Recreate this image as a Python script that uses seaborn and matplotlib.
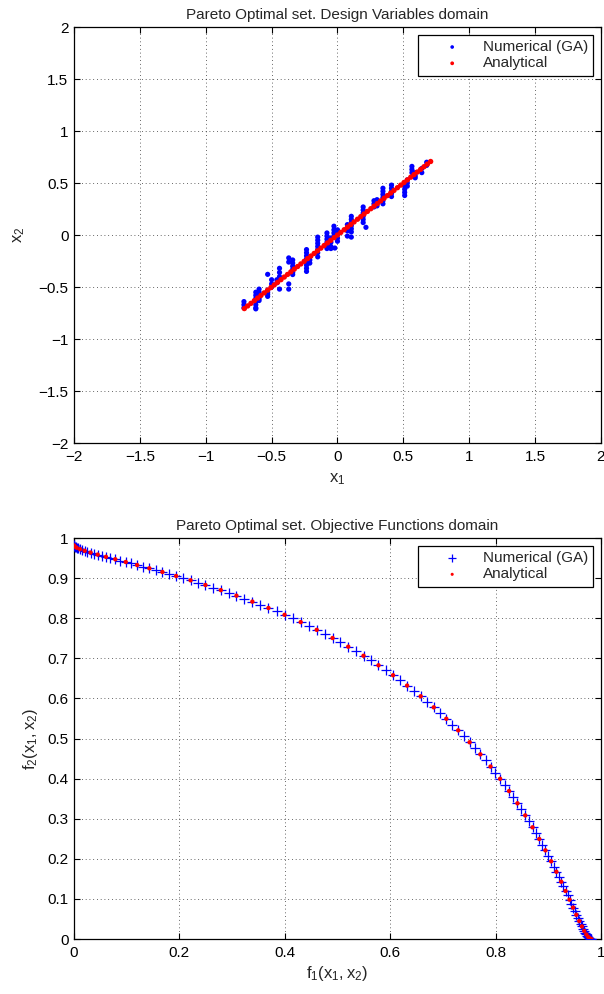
import matplotlib
matplotlib.use("Agg")
import matplotlib.pyplot as plt
import seaborn as sns
import pandas as pd

# ---------------- data ----------------
# Top panel: design variables domain
analytical_x1 = [-0.707, -0.682, -0.657, -0.631, -0.606, -0.581, -0.556, -0.530, -0.505, -0.480,
                 -0.455, -0.429, -0.404, -0.379, -0.354, -0.328, -0.303, -0.278, -0.253, -0.227,
                 -0.202, -0.177, -0.152, -0.126, -0.101, -0.076, -0.051, -0.025, 0.000, 0.025,
                 0.051, 0.076, 0.101, 0.126, 0.152, 0.177, 0.202, 0.227, 0.253, 0.278,
                 0.303, 0.328, 0.354, 0.379, 0.404, 0.429, 0.455, 0.480, 0.505, 0.530,
                 0.556, 0.581, 0.606, 0.631, 0.657, 0.682, 0.707]
analytical_x2 = [-0.707, -0.682, -0.657, -0.631, -0.606, -0.581, -0.556, -0.530, -0.505, -0.480,
                 -0.455, -0.429, -0.404, -0.379, -0.354, -0.328, -0.303, -0.278, -0.253, -0.227,
                 -0.202, -0.177, -0.152, -0.126, -0.101, -0.076, -0.051, -0.025, 0.000, 0.025,
                 0.051, 0.076, 0.101, 0.126, 0.152, 0.177, 0.202, 0.227, 0.253, 0.278,
                 0.303, 0.328, 0.354, 0.379, 0.404, 0.429, 0.455, 0.480, 0.505, 0.530,
                 0.556, 0.581, 0.606, 0.631, 0.657, 0.682, 0.707]

ga_x1 = ([-0.71] * 3 + [-0.62] * 7 + [-0.595] * 5 + [-0.53] * 5 + [-0.50] * 3 + [-0.46] * 2
         + [-0.44] * 4 + [-0.37] * 4 + [-0.34] * 6 + [-0.235] * 8 + [-0.21] * 3 + [-0.15] * 7
         + [-0.08] * 6 + [-0.05] * 4 + [-0.02] + [-0.027] * 4 + [0.0] * 4 + [0.075] * 4
         + [0.105] * 7 + [0.195] * 6 + [0.216] + [0.277] * 3 + [0.30] * 3 + [0.345] * 6
         + [0.41] * 5 + [0.51] * 5 + [0.53] * 3 + [0.565] * 3 + [0.59] * 3 + [0.64] * 2 + [0.677] * 2)
ga_x2 = ([-0.70, -0.67, -0.64]
         + [-0.55, -0.58, -0.61, -0.64, -0.67, -0.70, -0.71]
         + [-0.52, -0.55, -0.58, -0.61, -0.63]
         + [-0.378, -0.53, -0.55, -0.57, -0.59]
         + [-0.43, -0.47, -0.50]
         + [-0.43, -0.46]
         + [-0.32, -0.36, -0.40, -0.52]
         + [-0.22, -0.26, -0.47, -0.52]
         + [-0.24, -0.27, -0.30, -0.33, -0.36, -0.38]
         + [-0.14, -0.17, -0.20, -0.23, -0.26, -0.29, -0.32, -0.35]
         + [-0.21, -0.24, -0.27]
         + [-0.02, -0.05, -0.08, -0.11, -0.14, -0.17, -0.21]
         + [0.02, -0.01, -0.04, -0.07, -0.10, -0.13]
         + [-0.03, -0.07, -0.11, -0.13]
         + [-0.125]
         + [0.085, 0.05, 0.02, -0.01]
         + [0.05, 0.01, -0.03, -0.06]
         + [0.10, 0.07, 0.04, -0.01]
         + [0.18, 0.15, 0.12, 0.09, 0.06, 0.03, -0.02]
         + [0.27, 0.24, 0.21, 0.18, 0.15, 0.12]
         + [0.074]
         + [0.27, 0.30, 0.33]
         + [0.34, 0.31, 0.28]
         + [0.45, 0.42, 0.39, 0.36, 0.33, 0.30]
         + [0.48, 0.45, 0.42, 0.40, 0.37]
         + [0.50, 0.47, 0.44, 0.41, 0.38]
         + [0.53, 0.50, 0.47]
         + [0.66, 0.63, 0.60]
         + [0.60, 0.57, 0.55]
         + [0.64, 0.60]
         + [0.70, 0.67])

# Bottom panel: objective functions domain
analytical_f1 = [0.0000, 0.0013, 0.0051, 0.0114, 0.0202, 0.0314, 0.0449, 0.0606, 0.0784, 0.0982,
                 0.1198, 0.1430, 0.1678, 0.1939, 0.2212, 0.2495, 0.2786, 0.3083, 0.3385, 0.3690,
                 0.3996, 0.4302, 0.4606, 0.4907, 0.5204, 0.5494, 0.5778, 0.6054, 0.6321, 0.6579,
                 0.6827, 0.7065, 0.7291, 0.7507, 0.7711, 0.7904, 0.8086, 0.8256, 0.8415, 0.8563,
                 0.8701, 0.8829, 0.8946, 0.9054, 0.9154, 0.9245, 0.9327, 0.9403, 0.9471, 0.9532,
                 0.9588, 0.9638, 0.9682, 0.9722, 0.9758, 0.9789, 0.9817]
analytical_f2 = [0.9817, 0.9789, 0.9758, 0.9722, 0.9682, 0.9638, 0.9588, 0.9532, 0.9471, 0.9403,
                 0.9327, 0.9245, 0.9154, 0.9054, 0.8946, 0.8829, 0.8701, 0.8563, 0.8415, 0.8256,
                 0.8086, 0.7904, 0.7711, 0.7507, 0.7291, 0.7065, 0.6827, 0.6579, 0.6321, 0.6054,
                 0.5778, 0.5494, 0.5204, 0.4907, 0.4606, 0.4302, 0.3996, 0.3690, 0.3385, 0.3083,
                 0.2786, 0.2495, 0.2212, 0.1939, 0.1678, 0.1430, 0.1198, 0.0982, 0.0784, 0.0606,
                 0.0449, 0.0314, 0.0202, 0.0114, 0.0051, 0.0013, 0.0000]

ga_f1 = [0.0000, 0.0003, 0.0013, 0.0029, 0.0051, 0.0079, 0.0114, 0.0155, 0.0202, 0.0255,
         0.0314, 0.0379, 0.0449, 0.0525, 0.0606, 0.0692, 0.0784, 0.0880, 0.0982, 0.1087,
         0.1198, 0.1312, 0.1430, 0.1552, 0.1678, 0.1807, 0.1939, 0.2074, 0.2212, 0.2353,
         0.2495, 0.2640, 0.2786, 0.2934, 0.3083, 0.3234, 0.3385, 0.3538, 0.3690, 0.3843,
         0.3996, 0.4150, 0.4302, 0.4455, 0.4606, 0.4757, 0.4907, 0.5056, 0.5204, 0.5350,
         0.5494, 0.5637, 0.5778, 0.5917, 0.6054, 0.6189, 0.6321, 0.6451, 0.6579, 0.6704,
         0.6827, 0.6947, 0.7065, 0.7180, 0.7291, 0.7401, 0.7507, 0.7610, 0.7711, 0.7809,
         0.7904, 0.7996, 0.8086, 0.8172, 0.8256, 0.8337, 0.8415, 0.8490, 0.8563, 0.8634,
         0.8701, 0.8766, 0.8829, 0.8888, 0.8946, 0.9001, 0.9054, 0.9105, 0.9154, 0.9200,
         0.9245, 0.9287, 0.9327, 0.9366, 0.9403, 0.9438, 0.9471, 0.9502, 0.9532, 0.9561,
         0.9588, 0.9613, 0.9638, 0.9661, 0.9682, 0.9703, 0.9722, 0.9740, 0.9758, 0.9774,
         0.9789, 0.9803, 0.9817]
ga_f2 = [0.9817, 0.9803, 0.9789, 0.9774, 0.9758, 0.9740, 0.9722, 0.9703, 0.9682, 0.9661,
         0.9638, 0.9613, 0.9588, 0.9561, 0.9532, 0.9502, 0.9471, 0.9438, 0.9403, 0.9366,
         0.9327, 0.9287, 0.9245, 0.9200, 0.9154, 0.9105, 0.9054, 0.9001, 0.8946, 0.8888,
         0.8829, 0.8766, 0.8701, 0.8634, 0.8563, 0.8490, 0.8415, 0.8337, 0.8256, 0.8172,
         0.8086, 0.7996, 0.7904, 0.7809, 0.7711, 0.7610, 0.7507, 0.7401, 0.7291, 0.7180,
         0.7065, 0.6947, 0.6827, 0.6704, 0.6579, 0.6451, 0.6321, 0.6189, 0.6054, 0.5917,
         0.5778, 0.5637, 0.5494, 0.5350, 0.5204, 0.5056, 0.4907, 0.4757, 0.4606, 0.4455,
         0.4302, 0.4150, 0.3996, 0.3843, 0.3690, 0.3538, 0.3385, 0.3234, 0.3083, 0.2934,
         0.2786, 0.2640, 0.2495, 0.2353, 0.2212, 0.2074, 0.1939, 0.1807, 0.1678, 0.1552,
         0.1430, 0.1312, 0.1198, 0.1087, 0.0982, 0.0880, 0.0784, 0.0692, 0.0606, 0.0525,
         0.0449, 0.0379, 0.0314, 0.0255, 0.0202, 0.0155, 0.0114, 0.0079, 0.0051, 0.0029,
         0.0013, 0.0003, 0.0000]

top_ticks = [-2, -1.5, -1, -0.5, 0, 0.5, 1, 1.5, 2]
top_ticklabels = ["\u22122", "\u22121.5", "\u22121", "\u22120.5", "0", "0.5", "1", "1.5", "2"]
bot_xticks = [0, 0.2, 0.4, 0.6, 0.8, 1]
bot_xticklabels = ["0", "0.2", "0.4", "0.6", "0.8", "1"]
bot_yticks = [0, 0.1, 0.2, 0.3, 0.4, 0.5, 0.6, 0.7, 0.8, 0.9, 1]
bot_yticklabels = ["0", "0.1", "0.2", "0.3", "0.4", "0.5", "0.6", "0.7", "0.8", "0.9", "1"]

# ---------------- style ----------------
sns.set_theme(style="white")
plt.rcParams["font.family"] = ["Liberation Sans", "DejaVu Sans"]
plt.rcParams["mathtext.default"] = "regular"
plt.rcParams["axes.unicode_minus"] = True

FS = 11

fig = plt.figure(figsize=(6.04, 9.94), dpi=100)
ax1 = fig.add_axes([0.1225, 0.5543, 0.8725, 0.4185])
ax2 = fig.add_axes([0.1225, 0.0553, 0.8725, 0.4034])

BLUE = (0, 0, 1)
RED = (1, 0, 0)


def style_axes(ax):
    ax.set_facecolor("white")
    for sp in ax.spines.values():
        sp.set_visible(True)
        sp.set_color("black")
        sp.set_linewidth(0.9)
    ax.tick_params(direction="in", length=4, width=0.8, top=True, right=True,
                   bottom=True, left=True, labelsize=FS, colors="black", pad=5)
    ax.tick_params(axis="y", pad=4)
    ax.grid(True, color="black", linestyle=(0, (1, 3.5)), linewidth=0.6, alpha=0.8)
    ax.set_axisbelow(True)


# ---------------- top panel ----------------
df_ga_top = pd.DataFrame({"x1": ga_x1, "x2": ga_x2})
df_an_top = pd.DataFrame({"x1": analytical_x1, "x2": analytical_x2})
sns.scatterplot(data=df_ga_top, x="x1", y="x2", ax=ax1, color=BLUE, s=14,
                edgecolor="none", linewidth=0, label="Numerical (GA)", zorder=3)
sns.scatterplot(data=df_an_top, x="x1", y="x2", ax=ax1, color=RED, s=15,
                edgecolor="none", linewidth=0, label="Analytical", zorder=4)
ax1.set_xlim(-2, 2)
ax1.set_ylim(-2, 2)
ax1.set_xticks(top_ticks)
ax1.set_xticklabels(top_ticklabels)
ax1.set_yticks(top_ticks)
ax1.set_yticklabels(top_ticklabels)
style_axes(ax1)
ax1.set_title("Pareto Optimal set. Design Variables domain", fontsize=FS, pad=6)
ax1.set_xlabel("$x_1$", fontsize=FS + 1, labelpad=5)
ax1.set_ylabel("$x_2$", fontsize=FS + 1, labelpad=8)

# ---------------- bottom panel ----------------
df_ga_bot = pd.DataFrame({"f1": ga_f1, "f2": ga_f2})
df_an_bot = pd.DataFrame({"f1": analytical_f1, "f2": analytical_f2})
sns.scatterplot(data=df_ga_bot, x="f1", y="f2", ax=ax2, color=BLUE, marker="+", s=55,
                linewidth=0.9, label="Numerical (GA)", zorder=3)
sns.scatterplot(data=df_an_bot, x="f1", y="f2", ax=ax2, color=RED, s=10,
                edgecolor="none", linewidth=0, label="Analytical", zorder=4)
ax2.set_xlim(0, 1)
ax2.set_ylim(0, 1)
ax2.set_xticks(bot_xticks)
ax2.set_xticklabels(bot_xticklabels)
ax2.set_yticks(bot_yticks)
ax2.set_yticklabels(bot_yticklabels)
style_axes(ax2)
ax2.set_title("Pareto Optimal set. Objective Functions domain", fontsize=FS, pad=6)
ax2.set_xlabel("$f_1(x_1,x_2)$", fontsize=FS + 1, labelpad=3)
ax2.set_ylabel("$f_2(x_1,x_2)$", fontsize=FS + 1, labelpad=5)

for ax, ms in ((ax1, 0.7), (ax2, 0.7)):
    leg = ax.legend(loc="upper right", fontsize=FS, frameon=True, fancybox=False,
                    edgecolor="black", framealpha=1, borderpad=0.35, handlelength=3.8,
                    handletextpad=0.1, labelspacing=0.15, borderaxespad=0.5,
                    markerscale=ms)
    leg.get_frame().set_linewidth(0.9)

fig.savefig("out.png", dpi=100, facecolor="white")
